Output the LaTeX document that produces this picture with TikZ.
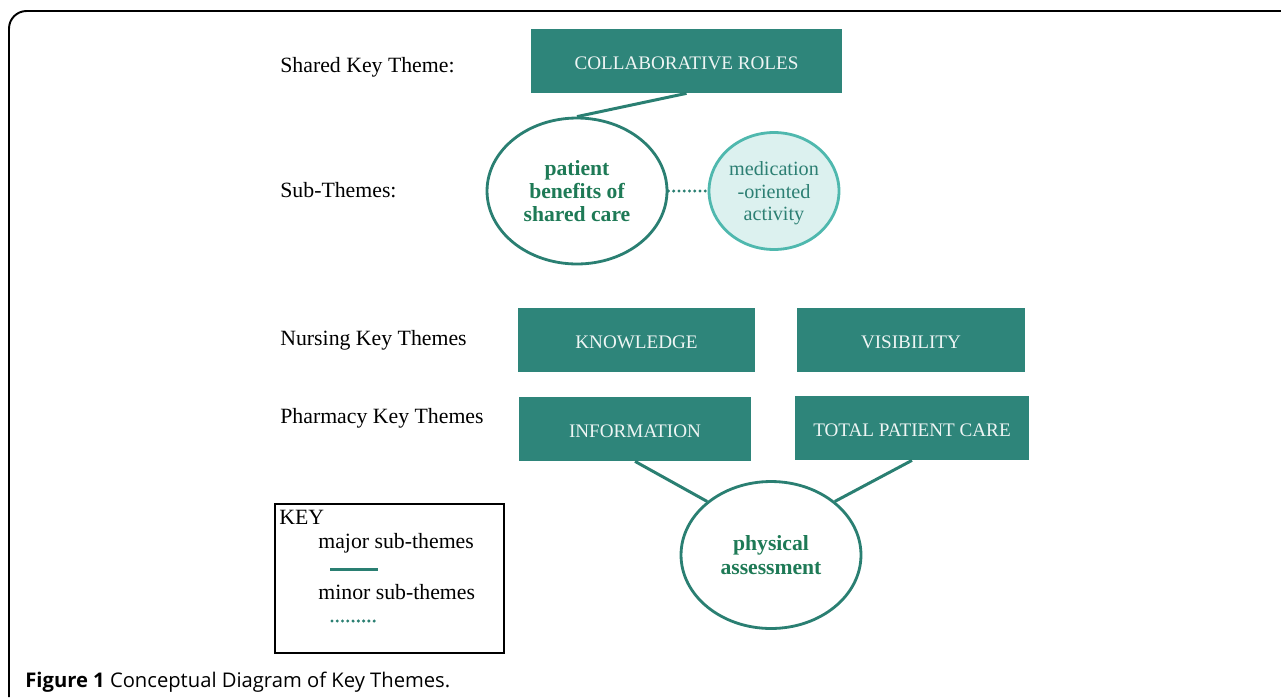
\documentclass[tikz,border=0pt]{standalone}
\usepackage{fontspec}
\setmainfont{Liberation Serif}
\newfontfamily\capfont{Open Sans}
\usetikzlibrary{shapes.geometric}

\definecolor{themeteal}{HTML}{2E857A}
\definecolor{ovalline}{HTML}{2A7F72}
\definecolor{ovaltext}{HTML}{1E7A56}
\definecolor{minorfill}{HTML}{DCF1EF}
\definecolor{minorline}{HTML}{4FB8AE}
\definecolor{minortext}{HTML}{2C7F73}

\tikzset{
  themebox/.style={fill=themeteal, text=white!92!themeteal, minimum height=1.28cm,
    inner sep=0pt, text height=10pt, text depth=0pt, font=\fontsize{10.9}{13}\selectfont},
  majoroval/.style={ellipse, draw=ovalline, line width=1.6pt, fill=white, text=ovaltext,
    align=center, inner sep=0pt, text depth=0pt, font=\bfseries\fontsize{12.3}{13.2}\selectfont},
  minoroval/.style={ellipse, draw=minorline, line width=1.6pt, fill=minorfill, text=minortext,
    align=center, inner sep=0pt, text depth=0pt, font=\fontsize{11.5}{12.8}\selectfont},
  rowlabel/.style={anchor=west, inner sep=0pt, font=\fontsize{12.4}{14}\selectfont},
  majorlink/.style={draw=ovalline, line width=1.7pt},
  minorlink/.style={draw=ovalline, line width=1.9pt, line cap=round, dash pattern=on 0pt off 3pt}
}

\begin{document}
\begin{tikzpicture}[x=0.02cm, y=-0.02cm]
    \useasboundingbox (0,0) rectangle (1281,697);

    % Marco
    \draw[line width=1.1pt, rounded corners=10pt] (1281,11) -- (9,11) -- (9,697);

    % Etiquetas de las filas
    \node[rowlabel] (sharedlbl) at (280,67) {Shared Key Theme:};
    \node[rowlabel] (sublbl) at (280,190) {Sub-Themes:};
    \node[rowlabel] (nurslbl) at (280,340) {Nursing Key Themes};
    \node[rowlabel] (pharmlbl) at (280,418) {Pharmacy Key Themes};

    % Temas clave
    \node[themebox, minimum width=6.22cm] (collab) at (686.5,61) {COLLABORATIVE ROLES};
    \node[themebox, minimum width=4.74cm] (knowledge) at (636.5,340) {KNOWLEDGE};
    \node[themebox, minimum width=4.56cm] (visibility) at (911,340) {VISIBILITY};
    \node[themebox, minimum width=4.64cm] (information) at (635,429) {INFORMATION};
    \node[themebox, minimum width=4.68cm] (totalcare) at (912,428) {TOTAL PATIENT CARE};

    % Subtemas
    \node[majoroval, minimum width=3.6cm, minimum height=2.92cm] (benefits) at (577,191)
        {patient\\benefits of\\shared care};
    \node[minoroval, minimum width=2.6cm, minimum height=2.34cm] (medication) at (774,191)
        {medication\\-oriented\\activity};
    \node[majoroval, minimum width=3.6cm, minimum height=2.94cm] (physical) at (771,555)
        {physical\\assessment};

    % Conexiones
    \draw[majorlink] (collab.south) -- (benefits.north);
    \draw[minorlink] (benefits.east) -- (medication.west);
    \draw[majorlink] (information.south) -- (physical.140);
    \draw[majorlink] (totalcare.south) -- (physical.40);

    % Leyenda
    \node[draw, line width=1.1pt, minimum width=4.58cm, minimum height=2.98cm] (keybox) at (389.5,578.5) {};
    \node[rowlabel, anchor=north west] (keylbl) at (279,510) {KEY};
    \node[rowlabel] (majorlbl) at (318,543) {major sub-themes};
    \node[rowlabel] (minorlbl) at (318,592) {minor sub-themes};
    \coordinate (majorA) at (330,569);
    \coordinate (majorB) at (378,569);
    \coordinate (minorA) at (332,621);
    \coordinate (minorB) at (375,621);
    \draw[majorlink] (majorA) -- (majorB);
    \draw[minorlink] (minorA) -- (minorB);

    % Pie de figura
    \node[anchor=west, inner sep=0pt, font=\capfont\fontsize{11.5}{14}\selectfont] (caption) at (25,682)
        {\textbf{Figure 1} Conceptual Diagram of Key Themes.};
\end{tikzpicture}
\end{document}
